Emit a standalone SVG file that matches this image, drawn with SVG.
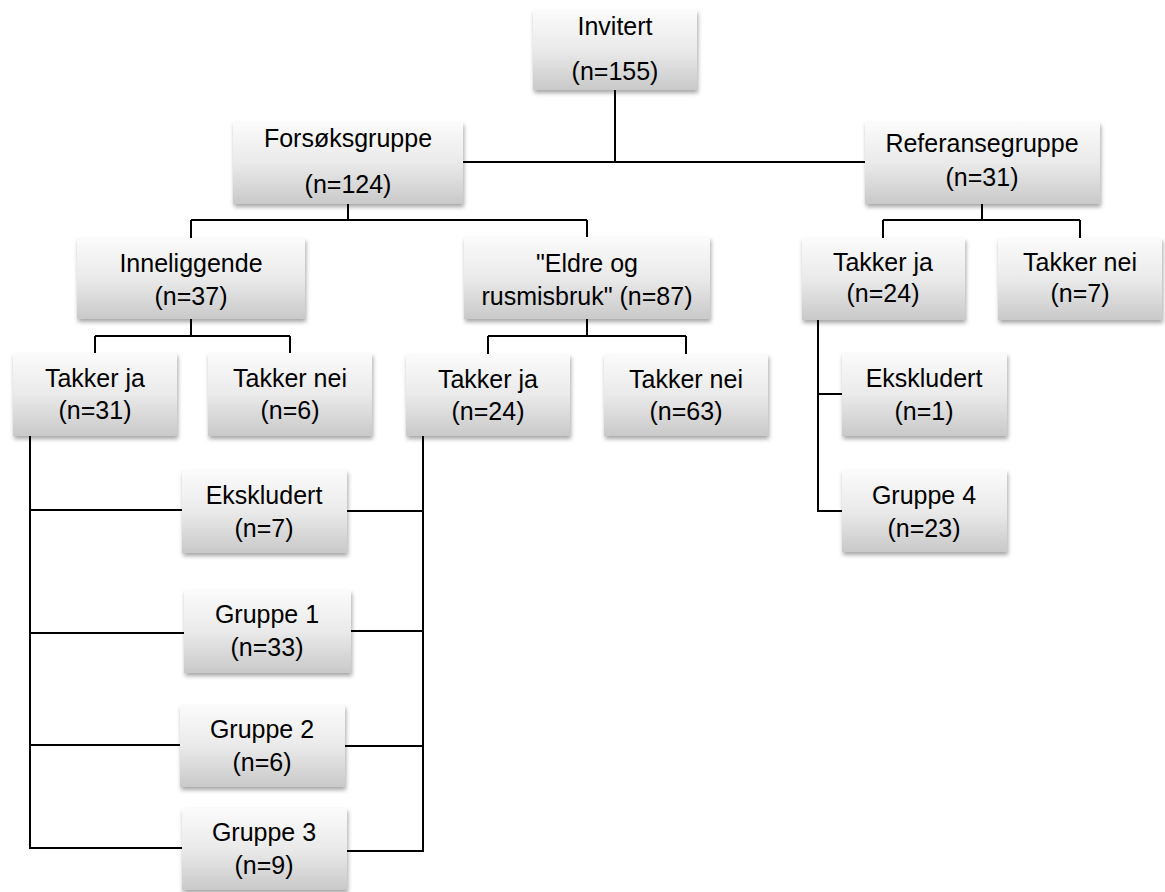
<svg xmlns="http://www.w3.org/2000/svg" width="1165" height="892" viewBox="0 0 1165 892">
<defs>
<linearGradient id="g" x1="0" y1="0" x2="0" y2="1">
<stop offset="0" stop-color="#fbfbfb"/>
<stop offset="0.5" stop-color="#eaeaea"/>
<stop offset="1" stop-color="#c9c9c9"/>
</linearGradient>
<filter id="sh" x="-10%" y="-10%" width="125%" height="135%">
<feDropShadow dx="1" dy="3" stdDeviation="2" flood-color="#000" flood-opacity="0.35"/>
</filter>
</defs>
<style>
.box{fill:url(#g);filter:url(#sh);}
.t{font-family:"Liberation Sans",Arial,sans-serif;font-size:25px;fill:#000;text-anchor:middle;}
.c{fill:none;stroke:#000;stroke-width:2;}
</style>
<rect width="1165" height="892" fill="#fff"/>
<g id="connectors" class="c">
<path d="M615 90V162M463 162H865"/>
<path d="M348 204V220M191 220H587M191 220V238M587 220V237"/>
<path d="M982 204V220M883 220H1080M883 220V238M1080 220V238"/>
<path d="M191 319V336M95 336H290M95 336V353M290 336V353"/>
<path d="M587 319V336M488 336H686M488 336V354M686 336V354"/>
<path d="M818 320V511H842M818 394H842"/>
<path d="M30 436V848H182M30 510H182M30 633H184M30 745H180"/>
<path d="M423 436V851H347M347 511H423M351 631H423M345 746H423"/>
</g>
<g id="invitert"><rect class="box" x="533" y="10" width="164" height="80"/><text class="t" x="615" y="35">Invitert</text><text class="t" x="615" y="80">(n=155)</text></g>
<g id="forsoksgruppe"><rect class="box" x="233" y="122" width="230" height="82"/><text class="t" x="348" y="147">Forsøksgruppe</text><text class="t" x="348" y="193">(n=124)</text></g>
<g id="referansegruppe"><rect class="box" x="865" y="122" width="235" height="82"/><text class="t" x="982" y="152">Referansegruppe</text><text class="t" x="982" y="186">(n=31)</text></g>
<g id="inneliggende"><rect class="box" x="77" y="238" width="228" height="81"/><text class="t" x="191" y="272">Inneliggende</text><text class="t" x="191" y="305">(n=37)</text></g>
<g id="eldre"><rect class="box" x="464" y="237" width="246" height="82"/><text class="t" x="587" y="272">"Eldre og</text><text class="t" x="587" y="305">rusmisbruk" (n=87)</text></g>
<g id="takker-ja-inn"><rect class="box" x="13" y="353" width="164" height="83"/><text class="t" x="95" y="387">Takker ja</text><text class="t" x="95" y="419">(n=31)</text></g>
<g id="takker-nei-inn"><rect class="box" x="208" y="353" width="164" height="83"/><text class="t" x="290" y="387">Takker nei</text><text class="t" x="290" y="419">(n=6)</text></g>
<g id="takker-ja-eldre"><rect class="box" x="406" y="354" width="164" height="82"/><text class="t" x="488" y="388">Takker ja</text><text class="t" x="488" y="420">(n=24)</text></g>
<g id="takker-nei-eldre"><rect class="box" x="604" y="354" width="164" height="82"/><text class="t" x="686" y="388">Takker nei</text><text class="t" x="686" y="420">(n=63)</text></g>
<g id="takker-ja-ref"><rect class="box" x="802" y="238" width="163" height="82"/><text class="t" x="883" y="271">Takker ja</text><text class="t" x="883" y="302">(n=24)</text></g>
<g id="takker-nei-ref"><rect class="box" x="998" y="238" width="164" height="82"/><text class="t" x="1080" y="271">Takker nei</text><text class="t" x="1080" y="302">(n=7)</text></g>
<g id="ekskludert-1"><rect class="box" x="182" y="470" width="165" height="83"/><text class="t" x="264" y="504">Ekskludert</text><text class="t" x="264" y="537">(n=7)</text></g>
<g id="gruppe-1"><rect class="box" x="184" y="590" width="167" height="83"/><text class="t" x="267" y="623">Gruppe 1</text><text class="t" x="267" y="656">(n=33)</text></g>
<g id="gruppe-2"><rect class="box" x="180" y="705" width="165" height="82"/><text class="t" x="262" y="738">Gruppe 2</text><text class="t" x="262" y="771">(n=6)</text></g>
<g id="gruppe-3"><rect class="box" x="182" y="808" width="165" height="82"/><text class="t" x="264" y="841">Gruppe 3</text><text class="t" x="264" y="874">(n=9)</text></g>
<g id="ekskludert-2"><rect class="box" x="842" y="353" width="165" height="83"/><text class="t" x="924" y="387">Ekskludert</text><text class="t" x="924" y="420">(n=1)</text></g>
<g id="gruppe-4"><rect class="box" x="842" y="470" width="165" height="82"/><text class="t" x="924" y="504">Gruppe 4</text><text class="t" x="924" y="537">(n=23)</text></g>
</svg>
